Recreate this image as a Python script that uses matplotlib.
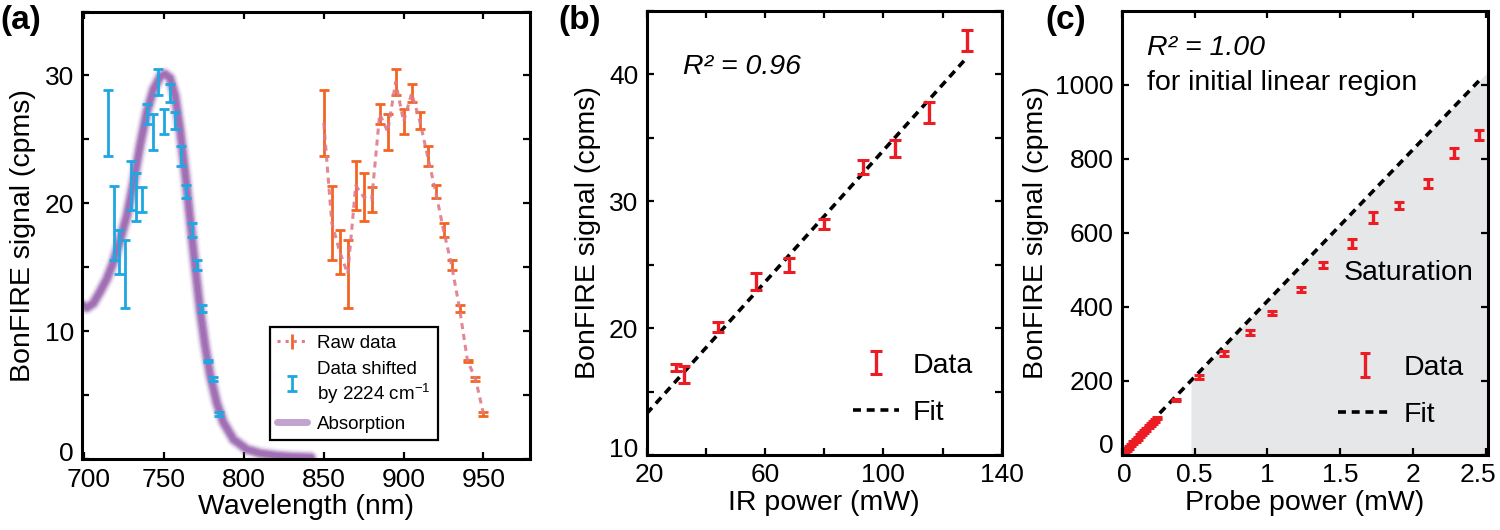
import matplotlib
matplotlib.use('Agg')
import matplotlib.pyplot as plt
from matplotlib.container import ErrorbarContainer
from matplotlib.legend_handler import HandlerErrorbar
from matplotlib.ticker import MultipleLocator
from matplotlib.transforms import ScaledTranslation

plt.rcParams['font.family'] = ['Liberation Sans', 'DejaVu Sans']
plt.rcParams['mathtext.fontset'] = 'custom'
plt.rcParams['mathtext.rm'] = 'Liberation Sans'
plt.rcParams['mathtext.it'] = 'Liberation Sans:italic'

# (a) spectrum
raw_wl = [850, 855, 860, 865, 870, 875, 880, 885, 890, 895, 900,
          905, 910, 915, 920, 925, 930, 935, 940, 945, 950]
shifted_wl = [714.9, 718.4, 721.9, 725.4, 729.0, 732.5, 736.0, 739.5, 742.9, 746.4, 749.9,
              753.4, 756.8, 760.3, 763.7, 767.2, 770.6, 774.0, 777.5, 780.9, 784.3]
signal = [26.3, 18.5, 16.2, 14.5, 21.4, 20.5, 20.3, 27.0, 25.6, 29.5, 26.4,
          28.6, 26.5, 23.7, 20.95, 17.9, 15.2, 11.8, 7.7, 6.3, 3.55]
signal_err = [2.6, 2.9, 1.7, 2.65, 1.95, 1.9, 0.95, 0.8, 1.4, 1.0, 1.0,
              0.7, 0.65, 0.75, 0.5, 0.55, 0.4, 0.25, 0.1, 0.15, 0.15]
abs_wl = [700, 701.6, 705.7, 709.9, 714.1, 718.2, 722.4, 726.6, 730.8, 734.9, 739.1,
          743.3, 747.5, 750.6, 753.7, 756.9, 760.0, 763.2, 766.3, 769.4, 772.5,
          775.7, 778.8, 783.0, 787.1, 793.4, 801.8, 810.1, 820, 830, 842]
abs_val = [12.0, 11.85, 12.2, 13.1, 14.1, 15.4, 17.1, 19.0, 21.6, 24.5, 27.1,
           28.9, 29.9, 30.1, 29.8, 28.4, 25.8, 22.4, 18.75, 15.1, 11.7,
           8.85, 6.6, 4.4, 2.9, 1.56, 0.78, 0.47, 0.3, 0.2, 0.15]

# (b) IR power dependence
ir_power = [29.8, 32.6, 44.2, 56.8, 68.0, 79.8, 93.0, 104.0, 115.5, 128.2]
ir_signal = [16.9, 16.35, 20.1, 23.65, 25.0, 28.2, 32.7, 34.2, 37.0, 42.7]
ir_err = [0.29, 0.64, 0.37, 0.67, 0.54, 0.41, 0.54, 0.67, 0.8, 0.83]
ir_fit_x = [20, 128]
ir_fit_y = [13.26, 41.27]

# (c) probe power dependence
probe_power = [0.02, 0.035, 0.05, 0.065, 0.08, 0.095, 0.11, 0.125, 0.14, 0.155, 0.17,
               0.185, 0.2, 0.215, 0.23, 0.245,
               0.37, 0.532, 0.704, 0.88, 1.031, 1.23, 1.383, 1.582, 1.726, 1.904,
               2.103, 2.281, 2.45]
probe_signal = [8, 14, 20, 26, 32, 38, 44, 51, 57, 63, 69, 75, 82, 88, 93, 99,
                148, 209, 274, 331, 382, 447, 513, 571, 642, 673, 732, 815, 864]
probe_err = [4, 4, 4, 4, 4, 4, 4, 4, 4, 4, 4, 4, 4, 4, 4, 4,
             3.5, 5.7, 6.5, 6.5, 5.7, 7, 8.4, 11.5, 14.6, 10, 12.4, 14.6, 13.3]
probe_fit_x = [0, 2.45]
probe_fit_y = [5, 1010]
sat_x = [0.475, 2.52]
sat_top = [200, 1038]

ORANGE = '#f26522'
PINK = '#e07a8c'
BLUE = '#1ea7e1'
PURPLE = '#9158a8'
RED = '#ec1c24'

fig = plt.figure(figsize=(15, 5.3), dpi=100)
ax_a = fig.add_axes([0.0549, 0.1334, 0.2985, 0.8449])
ax_b = fig.add_axes([0.4311, 0.1415, 0.2367, 0.8377])
ax_c = fig.add_axes([0.7478, 0.1415, 0.2444, 0.8377])


def style(ax):
    for s in ax.spines.values():
        s.set_linewidth(2.2)
    ax.tick_params(which='both', direction='in', top=True, right=True,
                   length=5, width=1.6, labelsize=19, pad=6)


def nudge(label, dx, dy):
    label.set_transform(label.get_transform() + ScaledTranslation(dx / 100, dy / 100, fig.dpi_scale_trans))


# ---- (a)
for lw, a in [(11, 0.08), (9, 0.16), (7, 0.3), (5.5, 0.4)]:
    ax_a.plot(abs_wl, abs_val, color=PURPLE, lw=lw, alpha=a, solid_capstyle='round')
ax_a.plot(abs_wl, abs_val, color=PURPLE, lw=3.5, alpha=0.55, solid_capstyle='round',
          label='Absorption')
ax_a.errorbar(raw_wl, signal, yerr=signal_err, fmt='none', ecolor=ORANGE,
              elinewidth=2, capsize=3.8, capthick=2)
ax_a.plot(raw_wl, signal, color=PINK, lw=2.2, linestyle=(0, (2, 1.6)), alpha=0.9)
raw_proxy = ax_a.errorbar([], [], yerr=[], fmt=':', color=PINK, lw=2.2,
                          ecolor=ORANGE, elinewidth=2, capsize=3.8, capthick=2,
                          label='Raw data')
ax_a.errorbar(shifted_wl, signal, yerr=signal_err, fmt='none', ecolor=BLUE,
              elinewidth=2, capsize=3.8, capthick=2,
              label='Data shifted\nby 2224 cm$^{-1}$')
ax_a.set_xlim(698.8, 979.2)
ax_a.set_ylim(0, 35)
ax_a.set_xticks([700, 750, 800, 850, 900, 950])
ax_a.set_yticks([0, 10, 20, 30])
ax_a.yaxis.set_minor_locator(MultipleLocator(5))
style(ax_a)
ax_a.set_xlabel('Wavelength (nm)', fontsize=20.5, labelpad=2)
ax_a.set_ylabel('BonFIRE signal (cpms)', fontsize=20.5, labelpad=6)
h, l = ax_a.get_legend_handles_labels()
order = [l.index('Raw data'), l.index('Data shifted\nby 2224 cm$^{-1}$'), l.index('Absorption')]
leg = ax_a.legend([h[i] for i in order], [l[i] for i in order],
                  loc='lower left', bbox_to_anchor=(0.419, 0.043), borderaxespad=0,
                  fontsize=13.5, handlelength=1.55, handletextpad=0.55,
                  fancybox=False, edgecolor='black', framealpha=1,
                  handler_map={ErrorbarContainer: HandlerErrorbar(xerr_size=0.4)})
leg.get_frame().set_linewidth(1.6)
leg.get_lines()[-1].set_linewidth(5) if leg.get_lines() else None

# ---- (b)
ax_b.plot(ir_fit_x, ir_fit_y, color='black', lw=2.6, linestyle=(0, (2.2, 1.6)), label='Fit')
ax_b.errorbar(ir_power, ir_signal, yerr=ir_err, fmt='none', ecolor=RED,
              elinewidth=2.4, capsize=4.2, capthick=2.2, label='Data')
ax_b.set_xlim(20, 140)
ax_b.set_ylim(10, 45)
ax_b.set_xticks([20, 60, 100, 140])
ax_b.set_yticks([10, 20, 30, 40])
ax_b.xaxis.set_minor_locator(MultipleLocator(20))
ax_b.yaxis.set_minor_locator(MultipleLocator(5))
style(ax_b)
ax_b.set_xlabel('IR power (mW)', fontsize=20.5, labelpad=2)
ax_b.set_ylabel('BonFIRE signal (cpms)', fontsize=20.5, labelpad=6)
ax_b.text(0.102, 0.874, 'R\u00b2 = 0.96', transform=ax_b.transAxes, fontsize=20.5,
          style='italic', va='center')
h, l = ax_b.get_legend_handles_labels()
ax_b.legend(h[::-1], l[::-1], loc='lower left', bbox_to_anchor=(0.55, 0.04),
            borderaxespad=0, frameon=False, fontsize=20.5, handlelength=1.6,
            handletextpad=0.5, labelspacing=0.75,
            handler_map={ErrorbarContainer: HandlerErrorbar(xerr_size=0.42)})

# ---- (c)
ax_c.fill_between(sat_x, [0, 0], sat_top, color='#e6e7e8', lw=0, zorder=0)
ax_c.plot(probe_fit_x, probe_fit_y, color='black', lw=2.6, linestyle=(0, (2.2, 1.6)), label='Fit')
ax_c.errorbar(probe_power, probe_signal, yerr=probe_err, fmt='none', ecolor=RED,
              elinewidth=2.4, capsize=3.8, capthick=2.2, label='Data')
ax_c.set_xlim(0, 2.515)
ax_c.set_ylim(-1, 1199)
ax_c.set_xticks([0, 0.5, 1, 1.5, 2, 2.5])
ax_c.set_xticklabels(['0', '0.5', '1', '1.5', '2', '2.5'])
ax_c.set_yticks([0, 200, 400, 600, 800, 1000])
style(ax_c)
ax_c.set_xlabel('Probe power (mW)', fontsize=20.5, labelpad=2)
ax_c.set_ylabel('BonFIRE signal (cpms)', fontsize=20.5, labelpad=4)
ax_c.text(0.069, 0.917, 'R\u00b2 = 1.00', transform=ax_c.transAxes, fontsize=20.5,
          style='italic', va='center')
ax_c.text(0.069, 0.838, 'for initial linear region', transform=ax_c.transAxes,
          fontsize=20.5, va='center')
ax_c.text(1.52, 491, 'Saturation', fontsize=20.5, va='center')
h, l = ax_c.get_legend_handles_labels()
ax_c.legend(h[::-1], l[::-1], loc='lower left', bbox_to_anchor=(0.56, 0.035),
            borderaxespad=0, frameon=False, fontsize=20.5, handlelength=1.9,
            handletextpad=0.4, labelspacing=0.75,
            handler_map={ErrorbarContainer: HandlerErrorbar(xerr_size=0.42)})

# corner tick labels sit a bit off the corner
nudge(ax_a.get_yticklabels()[0], 0, 8)
nudge(ax_b.get_yticklabels()[0], 0, 8)
nudge(ax_c.get_yticklabels()[0], 0, 11)
nudge(ax_a.get_xticklabels()[0], 4, 0)
nudge(ax_b.get_xticklabels()[0], 3, 0)
nudge(ax_c.get_xticklabels()[0], 3, 0)
nudge(ax_c.get_xticklabels()[-1], -8, 0)

for x, s in [(0.0, '(a)'), (0.372, '(b)'), (0.697, '(c)')]:
    fig.text(x, 0.962, s, fontsize=24, fontweight='bold', va='center', ha='left')

fig.savefig('out.png', dpi=100)
plt.close(fig)
